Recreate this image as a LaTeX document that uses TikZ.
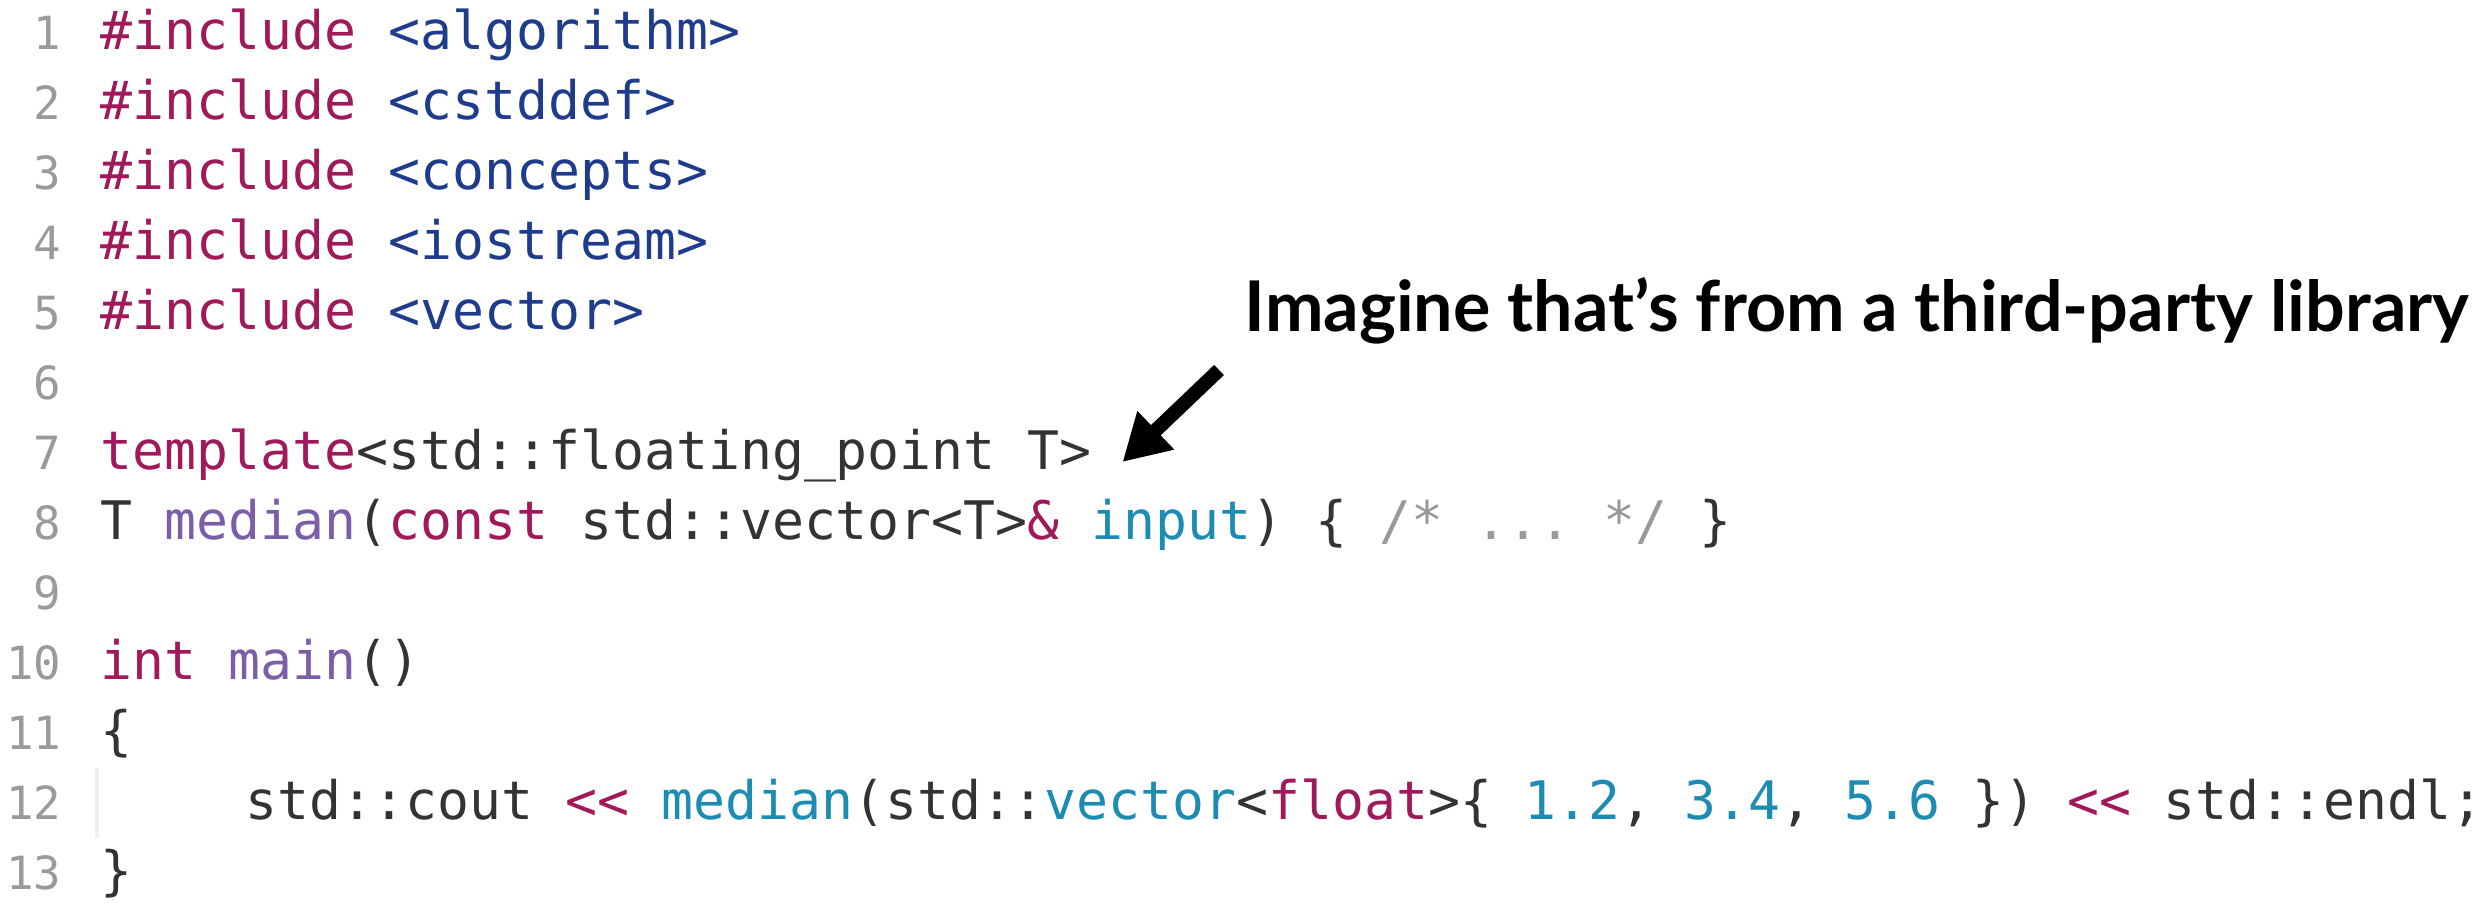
\documentclass[tikz,border=0pt]{standalone}
\usepackage{fontspec}
\setmonofont{DejaVu Sans Mono}
\newfontfamily\notefont{Lato}
\usetikzlibrary{arrows.meta}

\definecolor{lnumgray}{HTML}{9A9A9A}
\definecolor{kwred}{HTML}{A0195A}
\definecolor{hdrblue}{HTML}{1F3C8C}
\definecolor{fnpurple}{HTML}{7C5DA8}
\definecolor{valteal}{HTML}{1C8CB3}
\definecolor{txtgray}{HTML}{333333}
\definecolor{cmtgray}{HTML}{999999}

\newcommand{\kw}[1]{\textcolor{kwred}{#1}}
\newcommand{\hdr}[1]{\textcolor{hdrblue}{#1}}
\newcommand{\fn}[1]{\textcolor{fnpurple}{#1}}
\newcommand{\val}[1]{\textcolor{valteal}{#1}}
\newcommand{\cmt}[1]{\textcolor{cmtgray}{#1}}

\begin{document}
\begin{tikzpicture}[x=0.01cm, y=-0.01cm,
    code/.style={anchor=base west, inner sep=0pt, text=txtgray, font=\ttfamily\fontsize{15.1}{18}\selectfont},
    lnum/.style={anchor=base east, inner sep=0pt, text=lnumgray, font=\ttfamily\fontsize{13}{16}\selectfont},
    note/.style={anchor=base west, inner sep=0pt, font=\notefont\bfseries\fontsize{19.9}{23}\selectfont}]
    \useasboundingbox (0,0) rectangle (2492,906);
    % line numbers
    \foreach \i in {1,...,13}
        \node[lnum] (n\i) at (62, 49+70*\i-70) {\i};
    % the listing
    \node[code] (l1) at (100,49) {\kw{\#include} \hdr{<algorithm>}};
    \node[code] (l2) at (100,119) {\kw{\#include} \hdr{<cstddef>}};
    \node[code] (l3) at (100,189) {\kw{\#include} \hdr{<concepts>}};
    \node[code] (l4) at (100,259) {\kw{\#include} \hdr{<iostream>}};
    \node[code] (l5) at (100,329) {\kw{\#include} \hdr{<vector>}};
    \node[code] (l7) at (100,469) {\kw{template}<std::floating\_point T>};
    \node[code] (l8) at (100,539) {T \fn{median}(\kw{const} std::vector<T>\kw{\&} \val{input}) \{ \cmt{/* ... */} \}};
    \node[code] (l10) at (100,679) {\kw{int} \fn{main}()};
    \node[code] (l11) at (100,749) {\{};
    \draw[gray!12, line width=1pt] (97,768) -- (97,838);
    \node[code] (l12) at (245,819) {std::cout \kw{<<} \val{median}(std::\val{vector}<\kw{float}>\{ \val{1.2}, \val{3.4}, \val{5.6} \}) \kw{<<} std::endl;};
    \node[code] (l13) at (100,889) {\}};
    % annotation
    \node[note] (note) at (1244,331) {Imagine that’s from a third-party library};
    \coordinate (tail) at (1219,370);
    \coordinate (tip) at ([xshift=0.3cm, yshift=0.07cm]l7.base east);
    \draw[line width=4pt, -{Triangle[length=0.46cm, width=0.5cm]}] (tail) -- (tip);
\end{tikzpicture}
\end{document}
